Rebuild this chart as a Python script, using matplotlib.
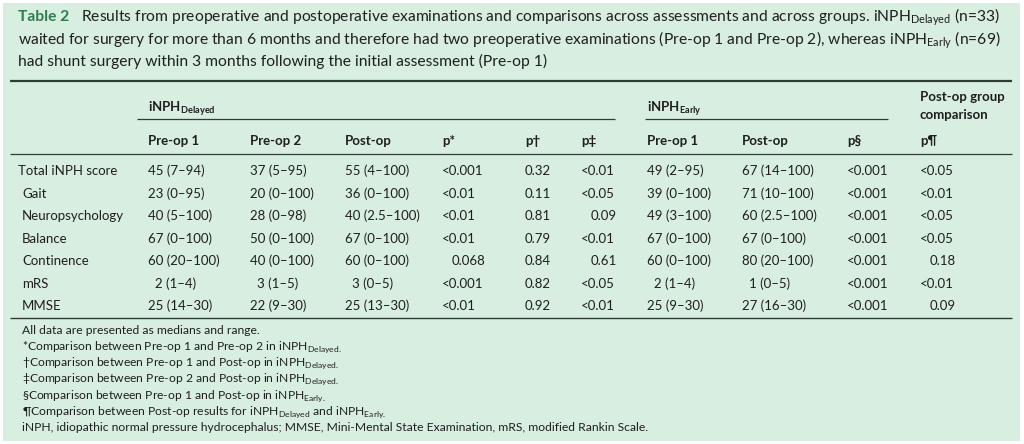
import matplotlib.pyplot as plt
from matplotlib.patches import Rectangle

plt.rcParams['font.family'] = ['Lato', 'DejaVu Sans']
plt.rcParams['mathtext.fontset'] = 'custom'
plt.rcParams['mathtext.rm'] = 'Lato'
plt.rcParams['mathtext.bf'] = 'Lato:bold'

# table contents
row_labels = ["Total iNPH score", "Gait", "Neuropsychology", "Balance",
              "Continence", "mRS", "MMSE"]
delayed_pre1 = ["45 (7–94)", "23 (0–95)", "40 (5–100)", "67 (0–100)",
                "60 (20–100)", "2 (1–4)", "25 (14–30)"]
delayed_pre2 = ["37 (5–95)", "20 (0–100)", "28 (0–98)", "50 (0–100)",
                "40 (0–100)", "3 (1–5)", "22 (9–30)"]
delayed_post = ["55 (4–100)", "36 (0–100)", "40 (2.5–100)", "67 (0–100)",
                "60 (0–100)", "3 (0–5)", "25 (13–30)"]
p_star = ["<0.001", "<0.01", "<0.01", "<0.01", "0.068", "<0.001", "<0.01"]
p_dagger = ["0.32", "0.11", "0.81", "0.79", "0.84", "0.82", "0.92"]
p_ddagger = ["<0.01", "<0.05", "0.09", "<0.01", "0.61", "<0.05", "<0.01"]
early_pre1 = ["49 (2–95)", "39 (0–100)", "49 (3–100)", "67 (0–100)",
              "60 (0–100)", "2 (1–4)", "25 (9–30)"]
early_post = ["67 (14–100)", "71 (10–100)", "60 (2.5–100)", "67 (0–100)",
              "80 (20–100)", "1 (0–5)", "27 (16–30)"]
p_sect = ["<0.001"] * 7
p_para = ["<0.05", "<0.01", "<0.05", "<0.05", "0.18", "<0.01", "0.09"]

col_headers = ["Pre-op 1", "Pre-op 2", "Post-op", "p*", "p†", "p‡",
               "Pre-op 1", "Post-op", "p§", "p¶"]
columns = [delayed_pre1, delayed_pre2, delayed_post, p_star, p_dagger,
           p_ddagger, early_pre1, early_post, p_sect, p_para]
col_x = [148, 250, 345, 442, 525, 581, 647, 742, 847, 920]

footnotes = [
    "All data are presented as medians and range.",
    "*Comparison between Pre-op 1 and Pre-op 2 in iNPH${}_{\\mathrm{Delayed.}}$",
    "†Comparison between Pre-op 1 and Post-op in iNPH${}_{\\mathrm{Delayed.}}$",
    "‡Comparison between Pre-op 2 and Post-op in iNPH${}_{\\mathrm{Delayed.}}$",
    "§Comparison between Pre-op 1 and Post-op in iNPH${}_{\\mathrm{Early.}}$",
    "¶Comparison between Post-op results for iNPH${}_{\\mathrm{Delayed}}$ and iNPH${}_{\\mathrm{Early.}}$",
    "iNPH, idiopathic normal pressure hydrocephalus; MMSE, Mini-Mental State Examination, mRS, modified Rankin Scale.",
]

TXT = '#1f1f1f'
GREEN = '#2e7d4f'
BG = '#d8eee0'
RULE = '#2c3e34'

def px(p):
    return p * 0.72

fig = plt.figure(figsize=(10.24, 4.44), dpi=100)
ax = fig.add_axes([0, 0, 1, 1])
ax.set_xlim(0, 1024)
ax.set_ylim(444, 0)
ax.axis('off')
ax.add_patch(Rectangle((3, 3), 1017, 438, color=BG, lw=0))

# caption
fs_cap = px(15.6)
t = ax.text(18, 21, "Table 2", color=GREEN, fontweight='bold', fontsize=fs_cap, va='baseline')
ax.annotate("   Results from preoperative and postoperative examinations and comparisons across "
            "assessments and across groups. iNPH${}_{\\mathrm{Delayed}}$ (n=33)",
            xy=(1, 21), xycoords=(t, 'data'), va='baseline', fontsize=fs_cap, color=TXT)
ax.text(18, 44, "waited for surgery for more than 6 months and therefore had two preoperative "
        "examinations (Pre-op 1 and Pre-op 2), whereas iNPH${}_{\\mathrm{Early}}$ (n=69)",
        fontsize=fs_cap, color=TXT, va='baseline')
ax.text(18, 66, "had shunt surgery within 3 months following the initial assessment (Pre-op 1)",
        fontsize=fs_cap, color=TXT, va='baseline')

# rules
ax.plot([10, 1012], [81, 81], color=RULE, lw=1.6, solid_capstyle='butt')
ax.plot([137, 615], [119, 119], color=RULE, lw=0.9, solid_capstyle='butt')
ax.plot([645, 888], [119, 119], color=RULE, lw=0.9, solid_capstyle='butt')
ax.plot([10, 1012], [154, 154], color=RULE, lw=0.9, solid_capstyle='butt')
ax.plot([10, 1012], [318, 318], color=RULE, lw=1.0, solid_capstyle='butt')

fs = px(13.2)
# group headers
ax.text(148, 112, "iNPH${}_{\\mathbf{Delayed}}$", fontweight='bold', fontsize=fs, color=TXT, va='baseline')
ax.text(647, 112, "iNPH${}_{\\mathbf{Early}}$", fontweight='bold', fontsize=fs, color=TXT, va='baseline')
ax.text(920, 101, "Post-op group", fontweight='bold', fontsize=fs, color=TXT, va='baseline')
ax.text(920, 119, "comparison", fontweight='bold', fontsize=fs, color=TXT, va='baseline')

for x, h in zip(col_x, col_headers):
    ax.text(x, 145, h, fontweight='bold', fontsize=fs, color=TXT, va='baseline')

row_y = [175 + 22.5 * i for i in range(len(row_labels))]
for x, col in zip(col_x, columns):
    has_lt = any(v.startswith('<') for v in col)
    for i, y in enumerate(row_y):
        v = col[i]
        dx = 0
        if has_lt and v[0] == '0':
            dx = 9.5      # line up decimal point with "<" values
        elif v[1] == ' ':
            dx = 7        # single digit median
        ax.text(x + dx, y, v, fontsize=fs, color=TXT, va='baseline')

for i, (y, lab) in enumerate(zip(row_y, row_labels)):
    ax.text(18 if i == 0 else 22, y, lab, fontsize=fs, color=TXT, va='baseline')

# footnotes
fs_fn = px(12.1)
for i, f in enumerate(footnotes):
    ax.text(22, 334 + 16.1 * i, f, fontsize=fs_fn, color=TXT, va='baseline')

fig.savefig('out.png', dpi=100)
